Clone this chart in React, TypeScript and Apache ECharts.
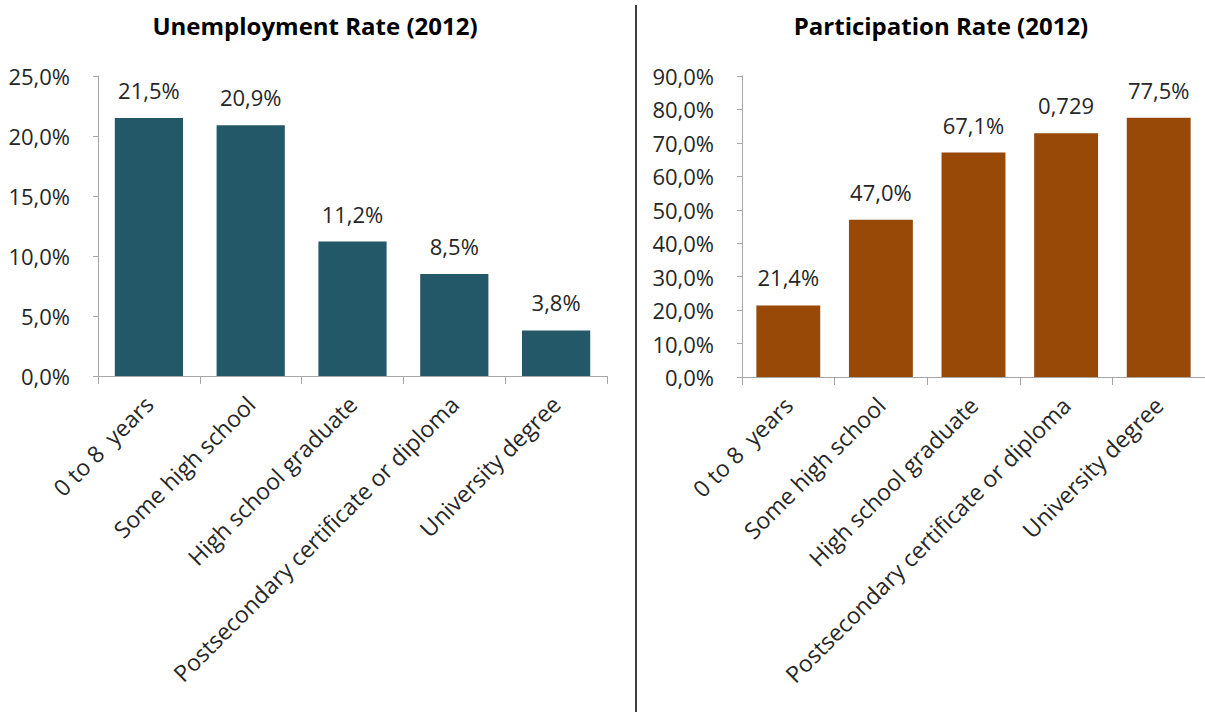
import React, { useEffect, useRef } from "react";
import * as echarts from "echarts";

const categories = [
  "0 to 8  years",
  "Some high school",
  "High school graduate",
  "Postsecondary certificate or diploma",
  "University degree",
];
const unemploymentValues = [21.5, 20.9, 11.2, 8.5, 3.8];
const unemploymentLabels = ["21,5%", "20,9%", "11,2%", "8,5%", "3,8%"];
const participationValues = [21.4, 47.0, 67.1, 72.9, 77.5];
const participationLabels = ["21,4%", "47,0%", "67,1%", "0,729", "77,5%"];
const unemploymentTitle = "Unemployment Rate (2012)";
const participationTitle = "Participation Rate (2012)";

const FONT = "'Open Sans', sans-serif";
const TEXT = "#262626";
const AXIS = "#a6a6a6";

const pct = (v: number) => v.toFixed(1).replace(".", ",") + "%";

export default function App() {
  const ref = useRef<HTMLDivElement>(null);
  useEffect(() => {
    if (!ref.current) return;
    const chart = echarts.init(ref.current, undefined, { renderer: "svg" });
    const xAxisBase = {
      type: "category" as const,
      data: categories,
      axisLine: { lineStyle: { color: AXIS, width: 1 } },
      axisTick: { show: true, length: 8, lineStyle: { color: AXIS } },
      axisLabel: {
        rotate: 45,
        interval: 0,
        margin: 24,
        fontFamily: FONT,
        fontSize: 23,
        color: TEXT,
      },
    };
    const yAxisBase = {
      type: "value" as const,
      min: 0,
      axisLine: { show: true, lineStyle: { color: AXIS, width: 1 } },
      axisTick: { show: true, length: 5, lineStyle: { color: AXIS } },
      splitLine: { show: false },
      axisLabel: {
        fontFamily: FONT,
        fontSize: 22,
        color: TEXT,
        margin: 28,
        formatter: (v: number) => pct(v),
      },
    };
    const labelBase = {
      show: true,
      position: "top" as const,
      distance: 17,
      fontFamily: FONT,
      fontSize: 22,
      color: TEXT,
    };
    chart.setOption({
      animation: false,
      backgroundColor: "#ffffff",
      title: [
        {
          text: unemploymentTitle,
          left: 310,
          textAlign: "center",
          top: 8,
          textStyle: { fontFamily: FONT, fontWeight: "bold", fontSize: 24, color: "#000" },
        },
        {
          text: participationTitle,
          left: 936,
          textAlign: "center",
          top: 8,
          textStyle: { fontFamily: FONT, fontWeight: "bold", fontSize: 24, color: "#000" },
        },
      ],
      grid: [
        { left: 98, top: 76, width: 509, height: 300 },
        { left: 742, top: 76, width: 471, height: 301 },
      ],
      xAxis: [
        { ...xAxisBase, gridIndex: 0 },
        { ...xAxisBase, gridIndex: 1 },
      ],
      yAxis: [
        { ...yAxisBase, gridIndex: 0, max: 25, interval: 5 },
        { ...yAxisBase, gridIndex: 1, max: 90, interval: 10 },
      ],
      series: [
        {
          type: "bar",
          xAxisIndex: 0,
          yAxisIndex: 0,
          data: unemploymentValues,
          barWidth: "67%",
          itemStyle: { color: "#225868" },
          label: { ...labelBase, formatter: (p: any) => unemploymentLabels[p.dataIndex] },
        },
        {
          type: "bar",
          xAxisIndex: 1,
          yAxisIndex: 1,
          data: participationValues,
          barWidth: "69%",
          itemStyle: { color: "#984807" },
          label: { ...labelBase, formatter: (p: any) => participationLabels[p.dataIndex] },
        },
      ],
      graphic: [
        {
          type: "line",
          shape: { x1: 636, y1: 5, x2: 636, y2: 712 },
          style: { stroke: "#000", lineWidth: 1.5 },
        },
      ],
    });
    return () => chart.dispose();
  }, []);
  return (
    <div
      ref={ref}
      style={{ position: "fixed", left: 0, top: 0, width: 1205, height: 712, background: "#fff" }}
    />
  );
}
